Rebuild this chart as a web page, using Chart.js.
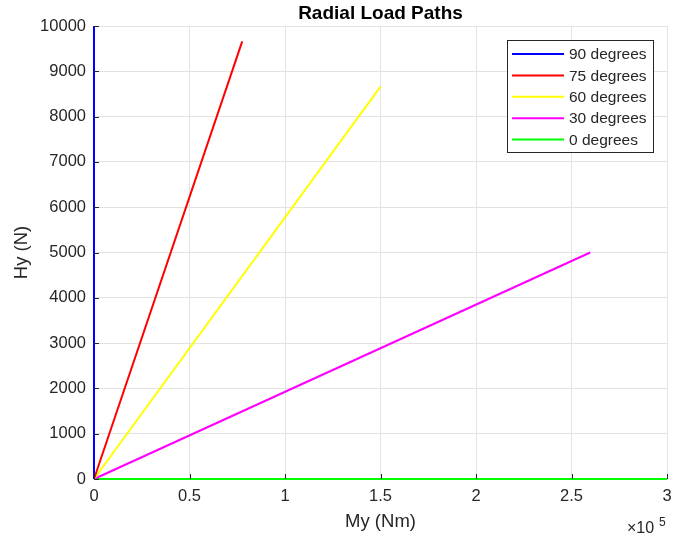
<!DOCTYPE html>
<html>
<head>
<meta charset="utf-8">
<script src="https://cdn.jsdelivr.net/npm/chart.js@4/dist/chart.umd.min.js"></script>
<style>
  html, body { margin: 0; padding: 0; background: #fff; }
  #wrap { width: 673px; height: 539px; }
</style>
</head>
<body>
<div id="wrap"><canvas id="c" width="673" height="539"></canvas></div>
<script>
// Radial load paths: each path runs from the origin to its end point
const pathLabels = ['90 degrees', '75 degrees', '60 degrees', '30 degrees', '0 degrees'];
const endMy = [0, 77600, 150000, 259800, 300000];   // Nm
const endHy = [10000, 9660, 8660, 5000, 0];         // N
const pathColors = ['#0000ff', '#ff0000', '#ffff00', '#ff00ff', '#00ff00'];
const xTickValues = [0, 50000, 100000, 150000, 200000, 250000, 300000];
const yTickValues = [0, 1000, 2000, 3000, 4000, 5000, 6000, 7000, 8000, 9000, 10000];

const FONT = '"Liberation Sans", Arial, Helvetica, sans-serif';
const TXT = '#262626';

const datasets = pathLabels.map((lab, i) => ({
  label: lab,
  data: [{ x: 0, y: 0 }, { x: endMy[i], y: endHy[i] }],
  borderColor: pathColors[i],
  backgroundColor: pathColors[i],
  borderWidth: 2,
  showLine: true,
  pointRadius: 0,
  fill: false,
  clip: 4
}));

// Title, axis labels, inward ticks, exponent and legend
const decor = {
  id: 'decor',
  afterDatasetsDraw(chart) {
    const ctx = chart.ctx;
    const a = chart.chartArea;
    const xs = chart.scales.x, ys = chart.scales.y;
    ctx.save();
    // inward tick marks on the left and bottom axes
    ctx.strokeStyle = TXT;
    ctx.lineWidth = 1;
    ctx.beginPath();
    xTickValues.forEach(v => {
      const px = Math.round(xs.getPixelForValue(v)) + 0.5;
      ctx.moveTo(px, a.bottom); ctx.lineTo(px, a.bottom - 5);
    });
    yTickValues.forEach(v => {
      const py = Math.round(ys.getPixelForValue(v)) + 0.5;
      ctx.moveTo(a.left, py); ctx.lineTo(a.left + 5, py);
    });
    ctx.stroke();

    // title
    ctx.fillStyle = '#000';
    ctx.font = 'bold 19px ' + FONT;
    ctx.textAlign = 'center';
    ctx.textBaseline = 'middle';
    ctx.fillText('Radial Load Paths', (a.left + a.right) / 2, 14);

    // axis titles
    ctx.fillStyle = TXT;
    ctx.font = '18.5px ' + FONT;
    ctx.fillText('My (Nm)', (a.left + a.right) / 2, 522);
    ctx.save();
    ctx.translate(22, (a.top + a.bottom) / 2);
    ctx.rotate(-Math.PI / 2);
    ctx.fillText('Hy (N)', 0, 0);
    ctx.restore();

    // exponent marker
    ctx.textAlign = 'left';
    ctx.textBaseline = 'alphabetic';
    ctx.font = '16px ' + FONT;
    ctx.fillText('\u00d710', 627, 533);
    ctx.font = '12px ' + FONT;
    ctx.fillText('5', 659, 526);

    // legend box
    const lx = 507.5, ly = 40.5, lw = 146, lh = 112;
    ctx.fillStyle = '#fff';
    ctx.fillRect(lx, ly, lw, lh);
    ctx.strokeStyle = '#262626';
    ctx.lineWidth = 1;
    ctx.strokeRect(lx, ly, lw, lh);
    ctx.font = '15.5px ' + FONT;
    ctx.textBaseline = 'middle';
    chart.data.datasets.forEach((ds, i) => {
      const y = 54 + i * 21.4;
      ctx.strokeStyle = ds.borderColor;
      ctx.lineWidth = 2;
      ctx.beginPath();
      ctx.moveTo(512, y); ctx.lineTo(564, y);
      ctx.stroke();
      ctx.fillStyle = TXT;
      ctx.fillText(ds.label, 569, y + 1);
    });
    ctx.restore();
  }
};

new Chart(document.getElementById('c'), {
  type: 'scatter',
  data: { datasets },
  options: {
    responsive: false,
    animation: false,
    devicePixelRatio: 1,
    layout: { padding: { left: 0, right: 6, top: 26, bottom: 0 } },
    plugins: { legend: { display: false }, title: { display: false }, tooltip: { enabled: false } },
    scales: {
      x: {
        type: 'linear',
        min: 0, max: 300000,
        afterBuildTicks(s) { s.ticks = xTickValues.map(v => ({ value: v })); },
        afterFit(s) { s.height = 60; s.paddingLeft = 0; s.paddingRight = 0; },
        grid: { color: '#e3e3e3', drawTicks: false },
        border: { color: '#e3e3e3' },
        ticks: {
          padding: 8,
          color: TXT,
          maxRotation: 0,
          font: { family: FONT, size: 16.5 },
          callback: v => String(v / 100000)
        }
      },
      y: {
        type: 'linear',
        min: 0, max: 10000,
        afterBuildTicks(s) { s.ticks = yTickValues.map(v => ({ value: v })); },
        afterFit(s) { s.width = 94; s.paddingTop = 0; s.paddingBottom = 0; },
        grid: { color: '#e3e3e3', drawTicks: false },
        border: { color: '#e3e3e3' },
        ticks: {
          padding: 8,
          color: TXT,
          font: { family: FONT, size: 16.5 },
          callback: v => String(v)
        }
      }
    }
  },
  plugins: [decor]
});
</script>
</body>
</html>
